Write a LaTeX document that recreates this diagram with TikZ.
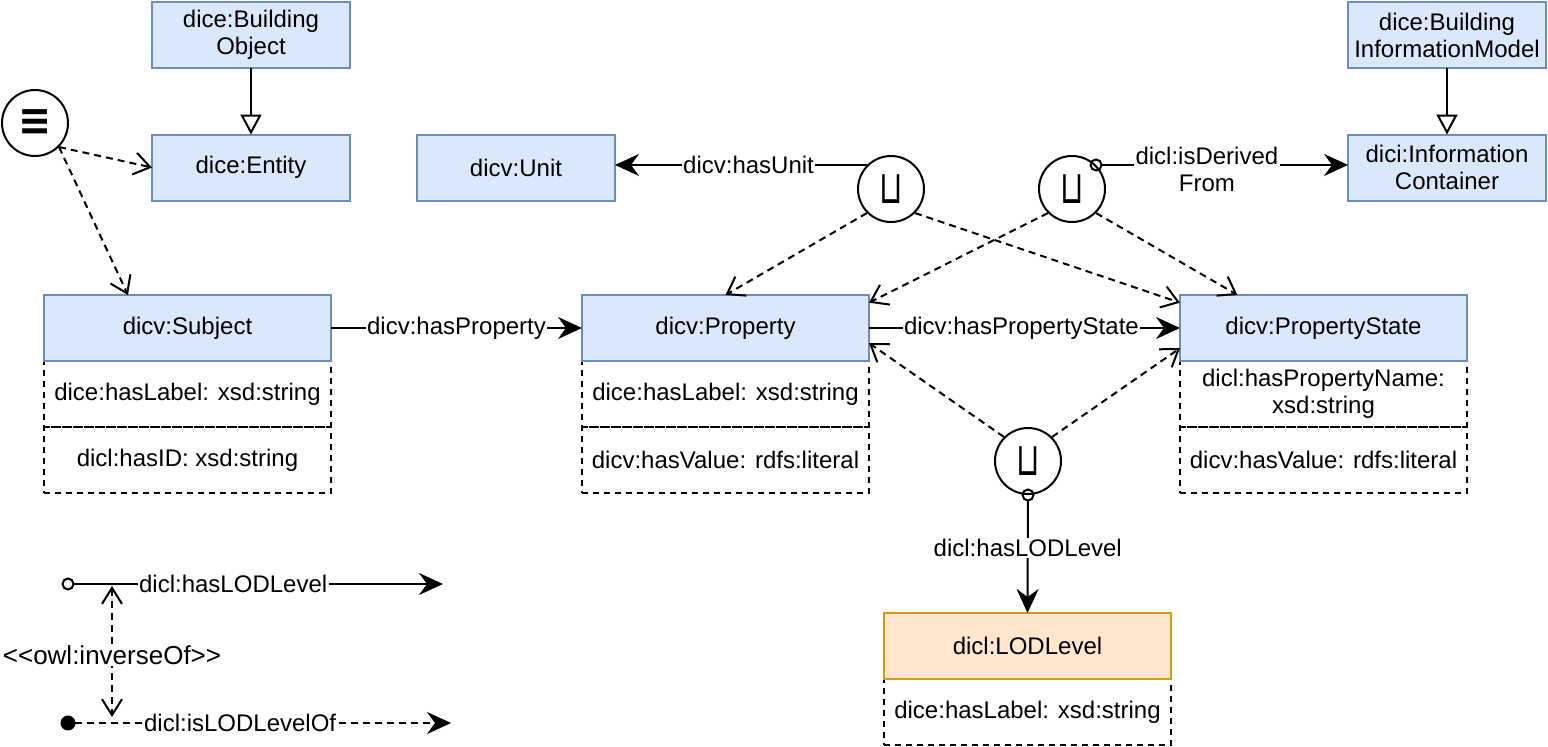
\documentclass[tikz,border=0pt]{standalone}
\usepackage{fontspec}
\setmainfont{Liberation Sans}
\newfontfamily\symfont{DejaVu Sans}
\usepackage{amsmath}
\usepackage{graphicx}
\usepackage{tikz}
\usetikzlibrary{arrows.meta}
\usetikzlibrary{calc}
\usetikzlibrary{positioning}
\usepackage{xcolor}
\definecolor{clsfill}{HTML}{DAE8FC}
\definecolor{clsdraw}{HTML}{6C8EBF}
\definecolor{lodfill}{HTML}{FFE6CC}
\definecolor{loddraw}{HTML}{D79B00}
\newcommand{\unionsym}{\scalebox{0.75}[1.15]{\symfont\fontsize{40}{40}\selectfont ⊔}}
\newcommand{\equivsym}{\scalebox{1.8}[2]{\symfont\bfseries\fontsize{22}{22}\selectfont ≡}}
\tikzset{
cls/.style={draw=clsdraw,
  fill=clsfill,
    line width=2pt,
    minimum width=198pt,
    minimum height=66pt,
    inner sep=0pt, outer sep=0pt,
    align=center},
wcls/.style={cls,
  minimum width=287pt},
lcls/.style={wcls,
  draw=loddraw, fill=lodfill},
attr/.style={draw,
  dash pattern=on 6pt off 5pt,
    line width=2pt,
    minimum width=287pt,
    minimum height=66pt,
    inner sep=0pt, outer sep=0pt,
    align=center},
op/.style={draw, circle,
  line width=2pt,
    fill=white,
    minimum size=66pt,
    inner sep=0pt},
lbl/.style={fill=white, inner sep=1.5pt, align=center},
}
\tikzset{edge/.style={line width=2pt}}
\tikzset{dedge/.style={line width=2pt, dash pattern=on 7pt off 5pt}}
\tikzset{
fa/.style={-{Stealth[length=24pt,width=22pt,inset=8pt]}},
oa/.style={-{Straight Barb[length=16pt,width=22pt]}},
ooa/.style={{Straight Barb[length=16pt,width=20pt]}-{Straight Barb[length=16pt,width=20pt]}},
ta/.style={-{Triangle[open,length=20pt,width=21pt,fill=white]}},
ofa/.style={{Circle[open,length=13pt]}-{Stealth[length=24pt,width=22pt,inset=8pt]}},
cfa/.style={{Circle[length=15pt]}-{Stealth[length=24pt,width=22pt,inset=8pt]}},
}

\begin{document}
\begin{tikzpicture}[x=1pt, y=-1pt, font=\fontsize{24}{27}\selectfont]
    \useasboundingbox (0,0) rectangle (1548,747);

    \node [cls] (bo)   at (251,35)    {dice:Building\\Object};
    \node [cls] (ent)  at (251,167.5) {dice:Entity};
    \node [op]  (eq)   at (35,123)    {\equivsym};
    \node [cls] (unit) at (516,167.5) {dicv:Unit};
    \node [op]  (u1)   at (891,189)   {\unionsym};
    \node [op]  (u2)   at (1072,189)  {\unionsym};
    \node [cls] (bim)  at (1447,35)   {dice:Building\\InformationModel};
    \node [cls] (ic)   at (1447,167.5) {dici:Information\\Container};

    \node [attr] (subj1) at (187.5,394) {dice:hasLabel: xsd:string};
    \node [attr, below=0pt of subj1] (subj2) {dicl:hasID: xsd:string};
    \node [wcls, above=0pt of subj1] (subj) {dicv:Subject};

    \node [attr] (prop1) at (725.5,394) {dice:hasLabel: xsd:string};
    \node [attr, below=0pt of prop1] (prop2) {dicv:hasValue: rdfs:literal};
    \node [wcls, above=0pt of prop1] (prop) {dicv:Property};

    \node [attr] (ps1) at (1323.5,394) {dicl:hasPropertyName:\\xsd:string};
    \node [attr, below=0pt of ps1] (ps2) {dicv:hasValue: rdfs:literal};
    \node [wcls, above=0pt of ps1] (ps) {dicv:PropertyState};

    \node [op] (u3) at (1028,461) {\unionsym};

    \node [attr] (lod1) at (1027.5,712) {dice:hasLabel: xsd:string};
    \node [lcls, above=0pt of lod1] (lod) {dicl:LODLevel};

    % legend
    \coordinate (l1) at (61.5,584);
    \coordinate (l2) at (443,584);
    \coordinate (l3) at (60.5,723);
    \coordinate (l4) at (451,723);
    \coordinate (l5) at (112,586);
    \coordinate (l6) at (112,717);

  \draw [edge, ta] (bo) -- (ent);
  \draw [edge, ta] (bim) -- (ic);
  \draw [dedge, oa] (eq.-45) -- (ent.west);
  \draw [dedge, oa] (eq.-45) -- (subj.151);

  \draw [edge, fa] (u1.135) -- (u1.135 -| unit.east) node[lbl, pos=0.47] {dicv:hasUnit};
  \draw [edge, ofa, shorten <=-6.5pt] (u2.45) -- (u2.45 -| ic.west) node[lbl, pos=0.44, yshift=-4pt] {dicl:isDerived\\From};

  \draw [dedge, oa] (u1.-135) -- (prop.north);
  \draw [dedge, oa] (u1.-45) -- (ps.170);
  \draw [dedge, oa] (u2.-135) -- (prop.10);
  \draw [dedge, oa] (u2.-45) -- (ps.159);

  \draw [edge, fa] (subj.east) -- (prop.west) node[lbl, pos=0.5] {dicv:hasProperty};
  \draw [edge, fa] (prop.east) -- (ps.west) node[lbl, pos=0.49] {dicv:hasPropertyState};

  \draw [dedge, oa] (u3.135) -- (prop.-6);
  \draw [dedge, oa] (u3.45) -- (ps.188);
  \draw [edge, ofa, shorten <=-6.5pt] (u3.south) -- (lod.north) node[lbl, pos=0.45] {dicl:hasLODLevel};

  \draw [edge, ofa] (l1) -- (l2) node[lbl, pos=0.45] {dicl:hasLODLevel};
  \draw [dedge, cfa] (l3) -- (l4) node[lbl, pos=0.46] {dicl:isLODLevelOf};
  \draw [dedge, ooa] (l5) -- (l6) node[lbl, pos=0.53, font=\fontsize{26}{28}\selectfont] {<\kern0pt<owl:inverseOf>\kern0pt>};
  \end{tikzpicture}
\end{document}
